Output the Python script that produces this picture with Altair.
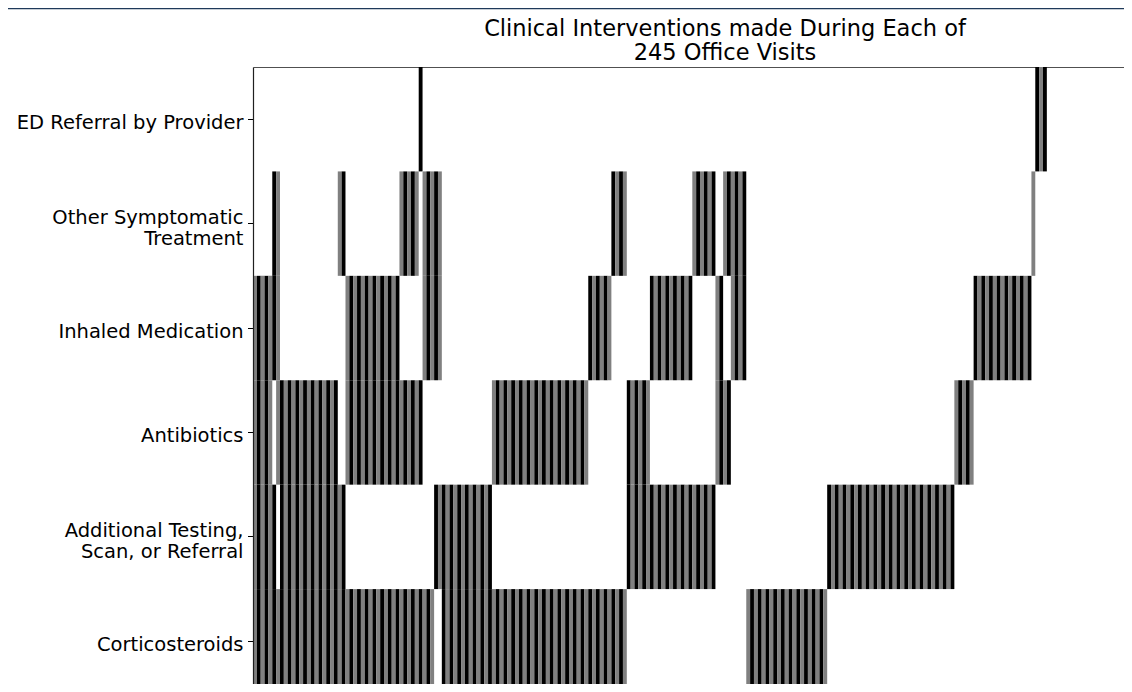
import altair as alt
import pandas as pd

# Interventions (rows, top to bottom)
interventions = [
    "ED Referral by Provider",
    "Other Symptomatic\nTreatment",
    "Inhaled Medication",
    "Antibiotics",
    "Additional Testing,\nScan, or Referral",
    "Corticosteroids",
]

# Combinations of interventions (indices into `interventions`), in plotted order
combo_sets = [
    [2, 3, 4, 5], [1, 2, 4, 5], [1, 2, 3, 5],
    [3, 4, 5], [1, 4, 5], [2, 3, 5], [1, 3, 5], [0, 3, 5], [1, 2, 5], [1, 2, 4],
    [4, 5], [3, 5], [2, 5], [1, 5], [3, 4], [2, 4], [1, 4], [2, 3], [1, 3], [1, 2],
    [5], [4], [3], [2], [1], [0],
    [],
]
# Number of office visits with each combination
combo_counts = [
    5, 1, 1,
    15, 2, 14, 5, 1, 3, 2,
    13, 25, 6, 4, 6, 11, 6, 2, 2, 4,
    21, 33, 5, 15, 1, 3,
    39,
]
total_visits = 245
visible_visits = 228.1   # the view shows the first ~228 of the 245 visit columns
shade_names = ["gray", "black"]
shade_colors = ["#808080", "#000000"]

rows = []
visit = 0
for combo, n in zip(combo_sets, combo_counts):
    for _ in range(n):
        for k in combo:
            rows.append({
                "visit": visit,
                "visit_end": visit + 1,
                "intervention": interventions[k],
                "shade": shade_names[visit % 2],
            })
        visit += 1
df = pd.DataFrame(rows)

FONT = "DejaVu Sans"
PLOT_W = 879
PLOT_H = 626.5

bars = alt.Chart(df).mark_rect(strokeWidth=0).encode(
    x=alt.X(
        "visit:Q",
        scale=alt.Scale(domain=[0, visible_visits], nice=False, zero=False),
        axis=alt.Axis(orient="top", labels=False, ticks=False, grid=False,
                      domain=True, domainColor="#505050", domainWidth=1.2, title=None),
    ),
    x2="visit_end:Q",
    y=alt.Y(
        "intervention:N",
        sort=interventions,
        scale=alt.Scale(paddingInner=0, paddingOuter=0),
        axis=alt.Axis(
            title=None,
            labelExpr="split(datum.label, '\\n')",
            labelFont=FONT,
            labelFontSize=19.5,
            labelLineHeight=21,
            labelColor="#000000",
            labelPadding=4.5,
            labelLimit=400,
            labelOffset={
                "condition": {"test": "indexof(datum.value, '\\n') >= 0", "value": -5.75},
                "value": 3.5,
            },
            tickColor="#000000",
            tickSize=5.5,
            tickWidth=1,
            domainColor="#202020",
            domainWidth=1.2,
            grid=False,
        ),
    ),
    color=alt.Color(
        "shade:N",
        scale=alt.Scale(domain=shade_names, range=shade_colors),
        legend=None,
    ),
)

# thin dark header line at the very top of the page
header = alt.Chart(pd.DataFrame({"a": [0]})).mark_rule(
    color="#1f3a5a", strokeWidth=1.5, clip=False
).encode(
    x=alt.value(-245), x2=alt.value(PLOT_W), y=alt.value(-58.5)
)

chart = alt.layer(bars, header).properties(
    width=PLOT_W,
    height=PLOT_H,
    title=alt.TitleParams(
        text=["Clinical Interventions made During Each of", "245 Office Visits"],
        font=FONT,
        fontSize=22.5,
        fontWeight="normal",
        color="#000000",
        anchor="middle",
        lineHeight=24.5,
        offset=0,
        dx=32.5,
        dy=57,
    ),
    # the view is cropped at the right and bottom edges, as in the original screenshot
    padding={"left": 245, "top": 59, "right": -8, "bottom": -9.5},
    autosize=alt.AutoSizeParams(type="none"),
).configure_view(stroke=None)

chart.save("out.html", embed_options={"renderer": "svg", "actions": False})
